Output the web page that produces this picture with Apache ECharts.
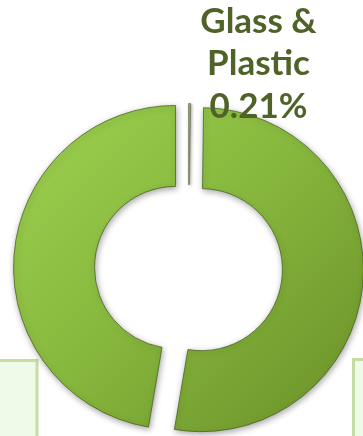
<!DOCTYPE html>
<html>
<head>
<meta charset="utf-8">
<script src="https://cdn.jsdelivr.net/npm/echarts@6/dist/echarts.min.js"></script>
<style>
  html, body { margin: 0; padding: 0; background: #ffffff; }
  #chart { width: 363px; height: 436px; }
</style>
</head>
<body>
<div id="chart"></div>
<script>
// Share of each material (percent of total)
const categories = ['Glass & Plastic', 'Category B', 'Category C'];
const values = [0.21, 52.46, 47.33];

// Layout of the exploded doughnut
const CENTER = [188.5, 268.5];
const RADIUS = [81, 162];
const EXPLODE = [3, 13, 13];          // outward shift of each slice, px

const chart = echarts.init(document.getElementById('chart'), null, { renderer: 'canvas' });

const ringFill = {
  type: 'linear', global: true,
  x: 20, y: 100, x2: 360, y2: 440,
  colorStops: [
    { offset: 0, color: '#9dd050' },
    { offset: 0.45, color: '#88b93e' },
    { offset: 1, color: '#6a8f28' }
  ]
};

const sliceStyles = [
  { color: '#98a872', borderColor: 'rgba(70,80,50,0.7)', borderWidth: 0.6,
    shadowBlur: 3, shadowColor: 'rgba(0,0,0,0.35)', shadowOffsetX: 1, shadowOffsetY: 1 },
  { color: ringFill, borderColor: 'rgba(70,95,25,0.75)', borderWidth: 1,
    shadowBlur: 6, shadowColor: 'rgba(0,0,0,0.35)', shadowOffsetX: 1, shadowOffsetY: 2 },
  { color: ringFill, borderColor: 'rgba(70,95,25,0.75)', borderWidth: 1,
    shadowBlur: 6, shadowColor: 'rgba(0,0,0,0.35)', shadowOffsetX: 1, shadowOffsetY: 2 }
];
const hiddenStyle = { color: 'rgba(0,0,0,0)', borderWidth: 0, shadowBlur: 0 };

const total = values.reduce((a, b) => a + b, 0);

// One pie per slice so every slice can be pulled out along its own mid-angle
let cumulative = 0;
const series = values.map((v, i) => {
  const mid = (cumulative + v / 2) / total * 2 * Math.PI;
  cumulative += v;
  const c = [CENTER[0] + EXPLODE[i] * Math.sin(mid), CENTER[1] - EXPLODE[i] * Math.cos(mid)];
  return {
    type: 'pie',
    z: i === 0 ? 5 : 2,
    silent: true,
    center: c,
    radius: RADIUS,
    startAngle: 90,
    clockwise: true,
    avoidLabelOverlap: false,
    emphasis: { disabled: true },
    labelLine: { show: false },
    label: {
      show: false,
      formatter: p => p.name.replace('& ', '&\n') + '\n' + p.value.toFixed(2) + '%',
      fontFamily: 'Lato, "Open Sans", sans-serif',
      fontWeight: 'bold',
      fontSize: 35,
      lineHeight: 42.5,
      color: '#4f6228',
      align: 'center'
    },
    labelLayout: p => (p.dataIndex === 0 ? { x: 258.5, y: 64, align: 'center', verticalAlign: 'middle' } : {}),
    data: values.map((val, j) => ({
      name: categories[j],
      value: val,
      itemStyle: j === i ? sliceStyles[j] : hiddenStyle,
      label: { show: j === i && j === 0 }
    }))
  };
});

chart.setOption({
  animation: false,
  backgroundColor: '#ffffff',
  graphic: [
    { type: 'rect', z: 0, shape: { x: -5, y: 360.5, width: 42, height: 100 },
      style: { fill: '#eefbe8', stroke: '#c5dda5', lineWidth: 3 } },
    { type: 'rect', z: 0, shape: { x: 353.5, y: 359.5, width: 30, height: 100 },
      style: { fill: '#eefbe8', stroke: '#c5dda5', lineWidth: 3 } }
  ],
  series: series
});
</script>
</body>
</html>
